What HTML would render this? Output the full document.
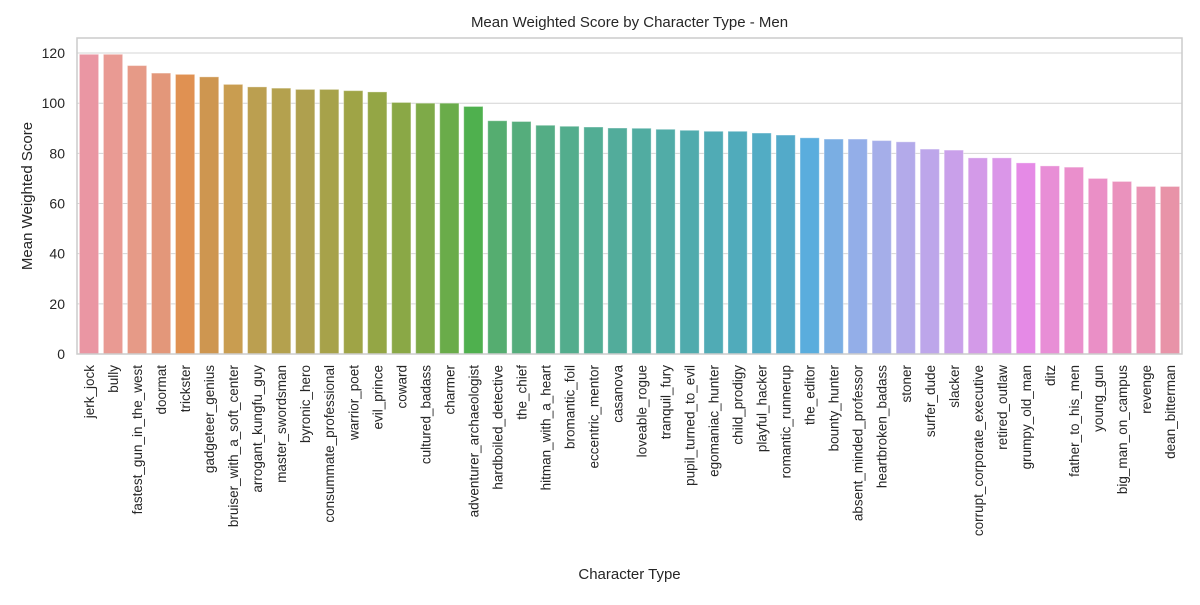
<!DOCTYPE html>
<html><head><meta charset="utf-8"><style>
body{margin:0;background:#fff;font-family:"Liberation Sans","DejaVu Sans",sans-serif}
svg text{font-family:"Liberation Sans","DejaVu Sans",sans-serif;fill:#262626}
</style></head><body>
<svg id="chart" width="1200" height="600" xmlns="http://www.w3.org/2000/svg"></svg>
<script>
const categories=["jerk_jock","bully","fastest_gun_in_the_west","doormat","trickster","gadgeteer_genius","bruiser_with_a_soft_center","arrogant_kungfu_guy","master_swordsman","byronic_hero","consummate_professional","warrior_poet","evil_prince","coward","cultured_badass","charmer","adventurer_archaeologist","hardboiled_detective","the_chief","hitman_with_a_heart","bromantic_foil","eccentric_mentor","casanova","loveable_rogue","tranquil_fury","pupil_turned_to_evil","egomaniac_hunter","child_prodigy","playful_hacker","romantic_runnerup","the_editor","bounty_hunter","absent_minded_professor","heartbroken_badass","stoner","surfer_dude","slacker","corrupt_corporate_executive","retired_outlaw","grumpy_old_man","ditz","father_to_his_men","young_gun","big_man_on_campus","revenge","dean_bitterman"];
const values=[119.5,119.5,115,112,111.5,110.5,107.5,106.5,106,105.5,105.5,105,104.5,100.3,100,100,98.7,93,92.7,91.2,90.8,90.5,90.1,90,89.6,89.2,88.8,88.8,88.1,87.3,86.2,85.7,85.7,85.1,84.6,81.7,81.3,78.2,78.2,76.2,75,74.5,70,68.8,66.8,66.8];
const yTicks=[0,20,40,60,80,100,120];
const colors=["#ea96a3","#e99a93","#e69a87","#e3977a","#e09152","#ce9650","#c99d50","#bb9f50","#b4a14e","#afa04e","#a7a24a","#9fa446","#94a645","#8aa846","#7eaa48","#6aac4a","#4fb04e","#55ad70","#55ad7c","#54ad85","#53ad8d","#52ad94","#52ac9b","#51aca1","#51aca7","#50abad","#50abb5","#50abbb","#52acc4","#53aac9","#5aaddd","#7aaee3","#93aee8","#a5aee9","#b3aaea","#bda6ea","#c9a0ea","#d39ae8","#da96e8","#e58ae6","#e88ed6","#ea8fcc","#ea8fc6","#ea92bd","#ea94b5","#e893a8"];
const NS="http://www.w3.org/2000/svg";
const svg=document.getElementById('chart');
const L=77,R=1182,T=38,B=354,yMax=126;
const y=v=>B-v/yMax*(B-T);
const slot=(R-L)/categories.length;
const x=i=>L+i*slot;
function mk(t,a){const e=document.createElementNS(NS,t);for(const k in a)e.setAttribute(k,a[k]);svg.appendChild(e);return e;}
// title
let e=mk('text',{x:(L+R)/2,y:27,'text-anchor':'middle','font-size':15});e.textContent='Mean Weighted Score by Character Type - Men';


yTicks.forEach(t=>{
 const g=mk('line',{x1:L,x2:R,y1:y(t),y2:y(t),stroke:'#d4d4d4','stroke-width':1});
 
 
 const tx=mk('text',{x:L-12,y:y(t)+5,'text-anchor':'end','font-size':14});tx.textContent=t;
 
 
});
categories.forEach((c,i)=>{
 const bw=slot*0.8;
 const r=mk('rect',{x:x(i)+slot*0.1,y:y(values[i]),width:bw,height:B-y(values[i]),fill:colors[i%colors.length],stroke:'rgba(255,255,255,0.35)','stroke-width':1});
 
 
 const cx=x(i)+slot/2+5;
 const tx=mk('text',{x:cx,y:365,'text-anchor':'end','font-size':13.5,transform:`rotate(-90 ${cx} 365)`});tx.textContent=c;
 
 
});
e=mk('rect',{x:L,y:T,width:R-L,height:B-T,fill:'none',stroke:'#cccccc','stroke-width':1.5});


e=mk('text',{x:(L+R)/2,y:579,'text-anchor':'middle','font-size':15});e.textContent='Character Type';


e=mk('text',{x:32,y:(T+B)/2,'text-anchor':'middle','font-size':15,transform:`rotate(-90 32 ${(T+B)/2})`});e.textContent='Mean Weighted Score';


</script>
</body></html>
